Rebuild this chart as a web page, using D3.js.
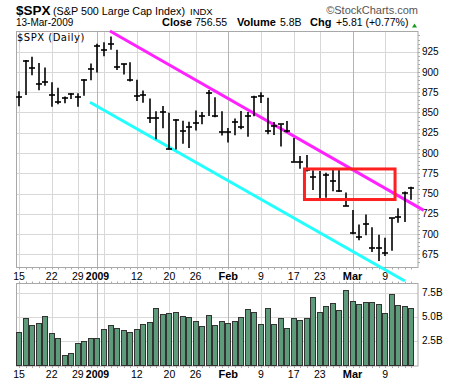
<!DOCTYPE html>
<html><head><meta charset="utf-8">
<script src="https://cdn.jsdelivr.net/npm/d3@7"></script>
<style>
html,body{margin:0;padding:0;background:#fff;}
svg{display:block;font-family:"Liberation Sans",Arial,sans-serif;}
</style></head>
<body><svg id="c" width="460" height="383"></svg>
<script>
// ---------- data ----------
const dates = ["2008-12-15","2008-12-16","2008-12-17","2008-12-18","2008-12-19","2008-12-22","2008-12-23","2008-12-24","2008-12-26","2008-12-29","2008-12-30","2008-12-31",
"2009-01-02","2009-01-05","2009-01-06","2009-01-07","2009-01-08","2009-01-09","2009-01-12","2009-01-13","2009-01-14","2009-01-15","2009-01-16","2009-01-20","2009-01-21","2009-01-22","2009-01-23","2009-01-26","2009-01-27","2009-01-28","2009-01-29","2009-01-30",
"2009-02-02","2009-02-03","2009-02-04","2009-02-05","2009-02-06","2009-02-09","2009-02-10","2009-02-11","2009-02-12","2009-02-13","2009-02-17","2009-02-18","2009-02-19","2009-02-20","2009-02-23","2009-02-24","2009-02-25","2009-02-26","2009-02-27",
"2009-03-02","2009-03-03","2009-03-04","2009-03-05","2009-03-06","2009-03-09","2009-03-10","2009-03-11","2009-03-12","2009-03-13"];
const high = [876.07,914.66,918.85,911.02,905.47,887.37,880.44,869.79,873.74,873.70,891.12,910.32,
934.73,936.63,943.85,927.45,910.00,911.93,890.40,877.02,867.28,851.59,858.13,849.64,841.72,839.74,838.61,852.53,850.45,877.86,868.89,851.66,
830.78,842.60,851.85,850.55,870.75,875.01,868.05,838.22,835.48,839.43,818.61,796.17,797.58,778.69,777.85,775.49,780.12,779.42,751.27,
729.57,711.67,724.12,708.27,699.09,695.27,719.60,731.92,752.63,758.29];
const low = [857.71,871.53,895.94,877.44,883.02,857.09,860.10,861.44,866.52,857.07,870.58,889.67,
899.35,919.53,927.28,902.37,896.81,888.31,864.32,862.02,836.93,817.04,830.66,804.47,804.30,811.29,806.07,827.69,835.40,845.73,844.15,821.67,
812.87,821.98,829.18,819.91,845.42,861.65,822.99,822.30,808.06,825.21,789.17,780.43,777.03,754.25,743.33,744.69,752.89,751.75,734.52,
699.70,692.30,698.60,677.93,666.79,672.88,679.28,713.85,714.76,742.46];
const close = [868.57,913.18,904.42,885.28,887.88,871.63,863.16,868.15,872.80,869.42,890.64,903.25,
931.80,927.45,934.70,906.65,909.73,890.35,870.26,871.79,842.62,843.74,850.12,805.22,840.24,827.50,831.95,836.57,845.71,874.09,845.14,825.88,
825.44,838.51,832.23,845.85,868.60,869.89,827.16,833.74,835.19,826.84,789.17,788.42,778.94,770.05,743.33,773.14,764.90,752.83,735.09,
700.82,696.33,712.87,682.55,683.38,676.53,719.60,721.36,750.74,756.55];
const volume = [3.37,4.83,4.13,4.31,5.04,3.27,2.75,0.98,1.19,2.23,2.44,2.75,
2.75,3.69,4.10,3.79,3.58,3.40,3.69,4.24,4.41,5.87,5.28,5.35,5.46,5.04,4.94,4.52,4.00,5.15,4.10,4.52,
4.34,4.58,4.94,5.77,5.46,4.21,5.87,4.21,4.83,3.79,4.83,4.62,4.83,7.02,5.46,6.08,6.40,5.67,7.75,
6.60,6.29,6.50,6.50,6.29,5.35,7.33,6.19,6.08,5.87];
const priceTicks = [675,700,725,750,775,800,825,850,875,900,925];
const volTicks = [2.5,5.0,7.5];
const volTickLabels = ["2.5B","5.0B","7.5B"];
const gridDates = ["2008-12-15","2008-12-22","2008-12-29","2009-01-02","2009-01-05","2009-01-12","2009-01-20","2009-01-26","2009-02-02","2009-02-09","2009-02-17","2009-02-23","2009-03-02","2009-03-09"];
const monthDates = ["2009-01-02","2009-02-02","2009-03-02"];
const labelDates = ["2008-12-15","2008-12-22","2008-12-29","2009-01-02","2009-01-12","2009-01-20","2009-01-26","2009-02-02","2009-02-09","2009-02-17","2009-02-23","2009-03-02","2009-03-09"];
const labelTexts = ["15","22","29","2009","12","20","26","Feb","9","17","23","Mar","9"];
// trend lines & highlight box (in date-index / price terms)
const magentaLine = [[13.9, 950.5],[61.9, 729.2]];
const cyanLine = [[10.85, 862.6],[59.0, 642.1]];
const boxIdx = [43.65, 57.5];
const boxPrice = [742.6, 780.3];

// ---------- layout ----------
const L = 16, R = 418;
const pTop = 31.5, pBot = 267.5, vTop = 283.5, vBot = 366;
const svg = d3.select("#c");
const x = d3.scalePoint().domain(dates).range([19, 411.4]);
const step = x.step();
const xi = i => x(dates[0]) + i * step;
const y = d3.scaleLinear().domain([675, 925]).range([254.3, 51.7]);
const yv = d3.scaleLinear().domain([0, 7.5]).range([364.7, 292.7]);
const crisp = v => Math.round(v) + 0.5;

// header
svg.append("text").attr("x",16).attr("y",15).attr("font-size",13.5).attr("font-weight","bold").text("$SPX");
svg.append("text").attr("x",53).attr("y",15).attr("font-size",11).attr("textLength",132).attr("lengthAdjust","spacingAndGlyphs").text("(S&P 500 Large Cap Index)");
svg.append("text").attr("x",190).attr("y",15).attr("font-size",9.5).text("INDX");
svg.append("text").attr("x",418).attr("y",14).attr("font-size",11).attr("fill","#555").attr("text-anchor","end").text("©StockCharts.com");
svg.append("text").attr("x",16).attr("y",26).attr("font-size",10).text("13-Mar-2009");
const hdr = [["Close",162,true],["756.55",195,false],["Volume",237,true],["5.8B",280,false],["Chg",310,true],["+5.81 (+0.77%)",336,false]];
hdr.forEach(h => svg.append("text").attr("x",h[1]).attr("y",26).attr("font-size",h[2]?11:10.5).attr("font-weight",h[2]?"bold":"normal").text(h[0]));
svg.append("path").attr("d","M412,27.5L417,27.5L414.5,23.5Z").attr("fill","#1a9a1a");

// gridlines
const gp = svg.append("g");
gp.selectAll("line.h").data(priceTicks).join("line")
  .attr("x1",L).attr("x2",R).attr("y1",d=>crisp(y(d))).attr("y2",d=>crisp(y(d)))
  .attr("stroke","#d8d8d8");
gp.selectAll("line.hv").data(volTicks).join("line")
  .attr("x1",L).attr("x2",R).attr("y1",d=>crisp(yv(d))).attr("y2",d=>crisp(yv(d)))
  .attr("stroke","#d8d8d8");
[[pTop,pBot],[vTop,vBot]].forEach(([t,b]) => {
  gp.selectAll(null).data(gridDates).join("line")
    .attr("x1",d=>crisp(x(d))).attr("x2",d=>crisp(x(d))).attr("y1",t).attr("y2",b)
    .attr("stroke",d=>monthDates.includes(d)?"#b4b4b4":"#d8d8d8");
});

// panel borders
svg.append("rect").attr("x",L+0.5).attr("y",pTop).attr("width",R-L-0.5).attr("height",pBot-pTop).attr("fill","none").attr("stroke","#a8a8a8");
svg.append("rect").attr("x",L+0.5).attr("y",vTop).attr("width",R-L-0.5).attr("height",vBot-vTop).attr("fill","none").attr("stroke","#a8a8a8");

// small day ticks
[[pBot,1],[vTop,-1],[vBot,1]].forEach(([yy,dir]) => {
  svg.append("g").selectAll("line").data(dates).join("line")
    .attr("x1",d=>crisp(x(d))).attr("x2",d=>crisp(x(d))).attr("y1",yy).attr("y2",yy+2*dir)
    .attr("stroke","#aaa");
});
// minor ticks on right price axis
svg.append("g").selectAll("line").data(d3.range(665,950,5)).join("line")
  .attr("x1",R).attr("x2",R+2).attr("y1",d=>crisp(y(d))).attr("y2",d=>crisp(y(d)))
  .attr("stroke","#aaa");

// price axis
const ax = svg.append("g").attr("transform",`translate(${R},0)`)
  .call(d3.axisRight(y).tickValues(priceTicks).tickSize(0).tickPadding(4).tickFormat(d3.format("d")));
ax.select(".domain").remove();
ax.selectAll("text").attr("font-size",10).attr("font-family","Liberation Sans, Arial, sans-serif").attr("fill","#000");

// volume axis
const av = svg.append("g").attr("transform",`translate(${R},0)`)
  .call(d3.axisRight(yv).tickValues(volTicks).tickSize(0).tickPadding(4).tickFormat((d,i)=>volTickLabels[i]));
av.select(".domain").remove();
av.selectAll("text").attr("font-size",10).attr("font-family","Liberation Sans, Arial, sans-serif").attr("fill","#000");

// date labels
[280, 378].forEach(by => {
  svg.append("g").selectAll("text").data(labelDates).join("text")
    .attr("x",d=>x(d)).attr("y",by).attr("text-anchor","middle")
    .attr("font-size",(d,i)=>/^\d+$/.test(labelTexts[i]) ? 10.5 : 11)
    .attr("font-weight",(d,i)=>/^\d{1,2}$/.test(labelTexts[i]) ? "normal" : "bold")
    .text((d,i)=>labelTexts[i]);
});

// "$SPX (Daily)" tag
svg.append("text").attr("x",17).attr("y",41).attr("font-size",10).attr("font-family","DejaVu Sans, Verdana, sans-serif")
  .attr("letter-spacing",0.5).text("$SPX (Daily)");

// trend lines
const line = d3.line().x(d=>xi(d[0])).y(d=>y(d[1]));
svg.append("path").attr("d",line(cyanLine)).attr("stroke","#22ffff").attr("stroke-width",3).attr("fill","none");
svg.append("path").attr("d",line(magentaLine)).attr("stroke","#ff22ff").attr("stroke-width",3).attr("fill","none");

// HLC bars
const bars = svg.append("g").attr("stroke","#000").attr("stroke-width",1.6);
dates.forEach((d,i) => {
  const cx = Math.round(x(d));
  bars.append("line").attr("x1",cx).attr("x2",cx).attr("y1",y(high[i])).attr("y2",y(low[i]));
  bars.append("line").attr("x1",cx-3).attr("x2",cx+3).attr("y1",Math.round(y(close[i]))).attr("y2",Math.round(y(close[i])));
});

// red box
svg.append("rect").attr("x",xi(boxIdx[0])).attr("y",y(boxPrice[1]))
  .attr("width",xi(boxIdx[1])-xi(boxIdx[0])).attr("height",y(boxPrice[0])-y(boxPrice[1]))
  .attr("fill","none").attr("stroke","#ff2020").attr("stroke-width",3);

// volume bars
svg.append("g").selectAll("rect").data(volume).join("rect")
  .attr("x",(v,i)=>Math.round(x(dates[i]))-2.5).attr("width",5)
  .attr("y",v=>Math.round(yv(v))+0.5).attr("height",v=>vBot-0.5-(Math.round(yv(v))+0.5))
  .attr("fill","#5d9b7b").attr("stroke","#333").attr("stroke-width",1);
</script></body></html>
